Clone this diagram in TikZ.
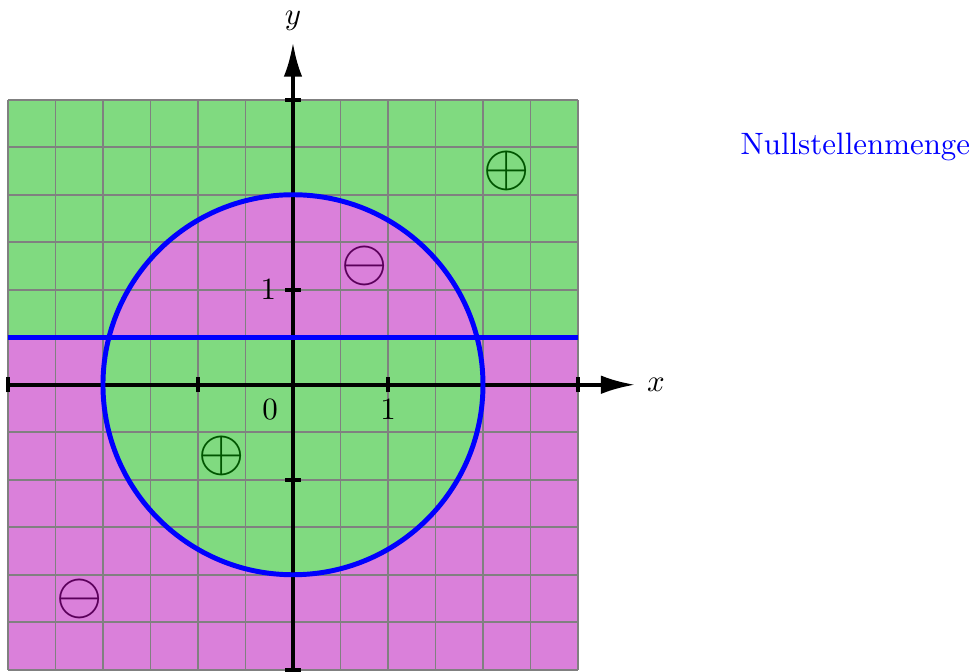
\documentclass[tikz,border=0pt]{standalone}
\usepackage{amsmath,amssymb}
\usetikzlibrary{arrows.meta}
\definecolor{plusgreen}{RGB}{128,218,128}
\definecolor{minusviolet}{RGB}{218,128,218}
\definecolor{plusdark}{RGB}{0,85,0}
\definecolor{minusdark}{RGB}{90,0,90}
\tikzset{
  axis/.style={line width=1.2pt,-{Latex[length=11pt,width=6pt]}},
  tickmark/.style={line width=1.2pt},
  zero/.style={blue,line width=1.6pt},
  plus/.style={plusdark,font=\fontsize{7}{8}\selectfont,scale=2.5},
  minus/.style={minusdark,font=\fontsize{7}{8}\selectfont,scale=2.5}
}
\begin{document}
\begin{tikzpicture}[x=1.08cm,y=1.08cm]
\useasboundingbox (-3.084,-3.02) rectangle (7.158,4.05);
\fill[plusgreen] (-3,0.5) rectangle (3,3);
\fill[minusviolet] (-3,-3) rectangle (3,0.5);
\begin{scope}
\clip (0,0) circle (2);
\fill[minusviolet] (-3,0.5) rectangle (3,3);
\fill[plusgreen] (-3,-3) rectangle (3,0.5);
\end{scope}
\draw[gray,line width=0.5pt] (-3,-3) grid[step=0.5] (3,3);
\coordinate (xmin) at (-3,0);
\coordinate (xmax) at (3.6,0);
\coordinate (ymin) at (0,-3);
\coordinate (ymax) at (0,3.6);
\draw[axis] (xmin) -- (xmax) node[right] (xlabel) {$x$};
\draw[axis] (ymin) -- (ymax) node[above] (ylabel) {$y$};
\foreach \t in {-3,-1,1,3} {
  \draw[tickmark] (\t,-0.08) -- (\t,0.08);
  \draw[tickmark] (-0.08,\t) -- (0.08,\t);
}
\node (xone) at (1,-0.26) {$1$};
\node (yone) at (-0.26,1) {$1$};
\node (origin) at (-0.24,-0.26) {$0$};
\coordinate (lineleft) at (-3,0.5);
\coordinate (lineright) at (3,0.5);
\draw[zero] (0,0) circle (2);
\draw[zero] (lineleft) -- (lineright);
\node[plus] (pone) at (2.25,2.25) {$\oplus$};
\node[minus] (mone) at (0.75,1.25) {$\ominus$};
\node[plus] (ptwo) at (-0.75,-0.75) {$\oplus$};
\node[minus] (mtwo) at (-2.25,-2.25) {$\ominus$};
\node[blue] (legend) at (5.92,2.5) {Nullstellenmenge};
\end{tikzpicture}
\end{document}
